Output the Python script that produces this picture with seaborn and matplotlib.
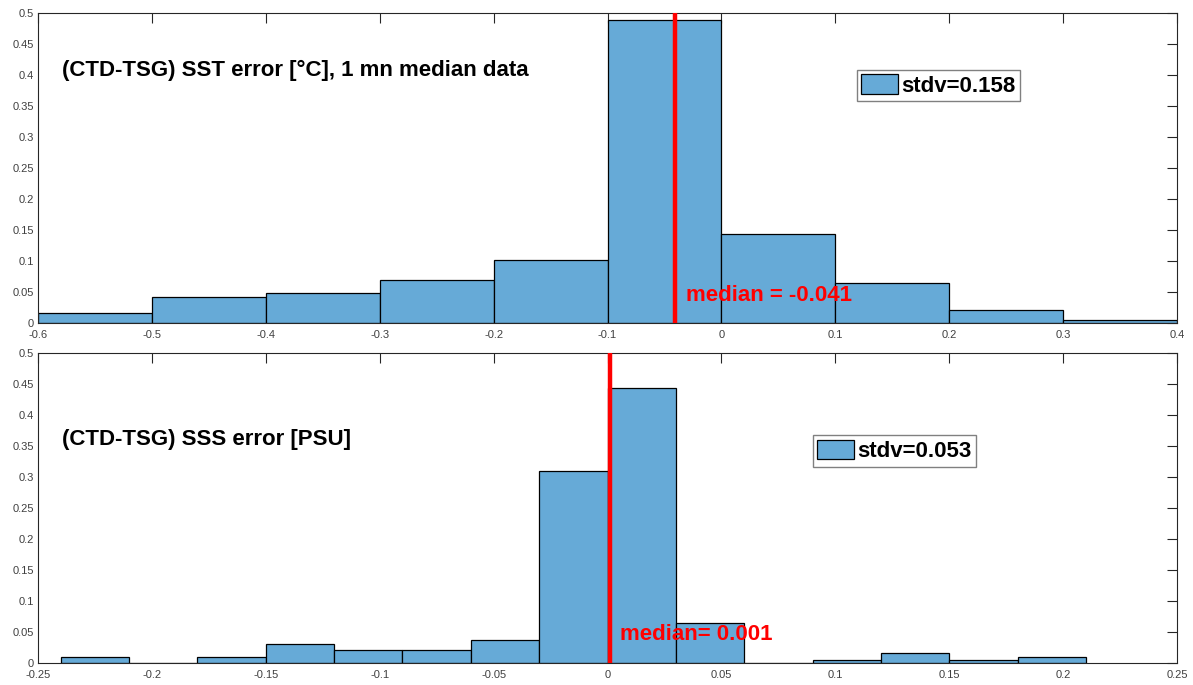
import numpy as np
import pandas as pd
import seaborn as sns
import matplotlib
matplotlib.use("Agg")
import matplotlib.pyplot as plt
from matplotlib.ticker import FuncFormatter, MultipleLocator

# ---------------- data ----------------
sst_edges = [-0.6, -0.5, -0.4, -0.3, -0.2, -0.1, 0.0, 0.1, 0.2, 0.3, 0.4]
sst_freq = [0.016, 0.042, 0.048, 0.069, 0.101, 0.489, 0.143, 0.064, 0.021, 0.005]
sst_median = -0.041
sst_stdv = 0.158
sst_title = "(CTD-TSG) SST error [°C], 1 mn median data"

sss_edges = [-0.24, -0.21, -0.18, -0.15, -0.12, -0.09, -0.06, -0.03, 0.0,
             0.03, 0.06, 0.09, 0.12, 0.15, 0.18, 0.21]
sss_freq = [0.010, 0.0, 0.010, 0.031, 0.021, 0.021, 0.037, 0.309, 0.443,
            0.065, 0.0, 0.005, 0.0155, 0.005, 0.0103]
sss_median = 0.001
sss_stdv = 0.053
sss_title = "(CTD-TSG) SSS error [PSU]"

# --------------------------------------
sns.set_theme(style="white")
plt.rcParams["font.family"] = ["Liberation Sans", "DejaVu Sans"]

BAR = "#66AAD7"
AXC = "#262626"
TXT = "#404040"
FS = 16

fig = plt.figure(figsize=(11.93, 6.85), dpi=100)
ax1 = fig.add_axes([38 / 1193, 1 - 323 / 685, 1139 / 1193, 310 / 685])
ax2 = fig.add_axes([38 / 1193, 1 - 663 / 685, 1139 / 1193, 310 / 685])

fmt = FuncFormatter(lambda v, p: ("%g" % round(v, 4)) if abs(v) > 1e-9 else "0")


def panel(ax, edges, freq, median, stdv, title, xlim, xstep,
          title_xy, med_xy, med_label, leg_anchor):
    e = np.array(edges)
    centers = (e[:-1] + e[1:]) / 2
    df = pd.DataFrame({"x": centers, "w": freq})
    sns.histplot(data=df, x="x", weights="w", bins=list(edges), stat="count",
                 color=BAR, alpha=1.0, edgecolor="black", linewidth=0.9,
                 ax=ax, label="stdv=%.3f" % stdv)
    ax.axvline(median, color="#FF0000", lw=3.2, zorder=3)
    ax.set_xlim(*xlim)
    ax.set_ylim(0, 0.5)
    ax.xaxis.set_major_locator(MultipleLocator(xstep))
    ax.yaxis.set_major_locator(MultipleLocator(0.05))
    ax.xaxis.set_major_formatter(fmt)
    ax.yaxis.set_major_formatter(fmt)
    ax.set_xlabel("")
    ax.set_ylabel("")
    ax.tick_params(direction="in", top=True, right=True, length=7, width=0.8,
                   color=AXC, labelsize=8, labelcolor=TXT)
    ax.tick_params(axis="x", pad=5)
    ax.tick_params(axis="y", pad=3)
    for s in ax.spines.values():
        s.set_visible(True)
        s.set_color(AXC)
        s.set_linewidth(0.8)
    ax.text(title_xy[0], title_xy[1], title, fontsize=FS, fontweight="bold",
            color="black", va="center", ha="left")
    ax.text(med_xy[0], med_xy[1], med_label, fontsize=FS, fontweight="bold",
            color="#FF0000", va="center", ha="left", zorder=4)
    leg = ax.legend(loc="upper left", bbox_to_anchor=leg_anchor,
                    prop={"weight": "bold", "size": FS}, frameon=True,
                    fancybox=False, edgecolor="#808080", framealpha=1,
                    handlelength=1.65, handleheight=1.0, handletextpad=0.15,
                    borderpad=0.2, borderaxespad=0, labelcolor="black")
    leg.get_frame().set_linewidth(1.0)


panel(ax1, sst_edges, sst_freq, sst_median, sst_stdv, sst_title,
      (-0.6, 0.4), 0.1, (-0.579, 0.408), (-0.031, 0.045),
      "median = %.3f" % sst_median, (0.719, 0.816))
panel(ax2, sss_edges, sss_freq, sss_median, sss_stdv, sss_title,
      (-0.25, 0.25), 0.05, (-0.2395, 0.360), (0.0055, 0.046),
      "median= %.3f" % sss_median, (0.680, 0.735))

fig.savefig("out.png", dpi=100)
